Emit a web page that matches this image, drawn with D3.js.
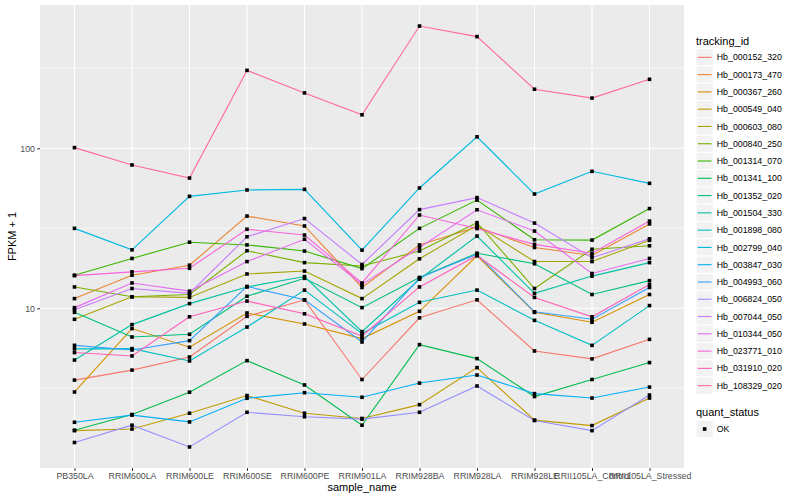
<!DOCTYPE html>
<html>
<head>
<meta charset="utf-8">
<script src="https://cdn.jsdelivr.net/npm/d3@7"></script>
<style>
  body { margin: 0; background: #fff; }
  text { font-family: "Liberation Sans", Arial, sans-serif; }
</style>
</head>
<body>
<svg id="chart" width="800" height="500"></svg>
<script>
// samples on the x axis
var samples = ["PB350LA", "RRIM600LA", "RRIM600LE", "RRIM600SE", "RRIM600PE", "RRIM901LA",
  "RRIM928BA", "RRIM928LA", "RRIM928LE", "RRII105LA_Control", "RRII105LA_Stressed"];

var trackingIds = ["Hb_000152_320", "Hb_000173_470", "Hb_000367_260", "Hb_000549_040",
  "Hb_000603_080", "Hb_000840_250", "Hb_001314_070", "Hb_001341_100", "Hb_001352_020",
  "Hb_001504_330", "Hb_001898_080", "Hb_002799_040", "Hb_003847_030", "Hb_004993_060",
  "Hb_006824_050", "Hb_007044_050", "Hb_010344_050", "Hb_023771_010", "Hb_031910_020",
  "Hb_108329_020"];

// FPKM + 1, one array per gene, in sample order
var hb000152 = [3.56, 4.11, 4.96, 8.91, 11.3, 3.59, 8.72, 11.3, 5.41, 4.83, 6.40];
var hb000173 = [11.5, 16.1, 18.6, 37.7, 32.7, 13.5, 24.9, 32.2, 24.0, 21.4, 33.7];
var hb000367 = [3.00, 7.47, 5.71, 9.35, 7.98, 6.47, 9.58, 21.3, 9.44, 8.18, 12.2];
var hb000549 = [1.72, 1.76, 2.21, 2.85, 2.21, 2.05, 2.50, 4.26, 2.00, 1.85, 2.75];
var hb000603 = [8.54, 11.8, 11.7, 16.4, 17.1, 11.5, 20.4, 33.0, 19.6, 19.6, 26.6];
var hb000840 = [13.6, 11.8, 12.2, 22.9, 19.3, 18.4, 22.8, 34.3, 13.3, 23.4, 24.6];
var hb001314 = [16.1, 20.5, 25.9, 24.9, 22.8, 17.7, 31.6, 47.5, 26.8, 26.7, 42.0];
var hb001341 = [1.73, 2.17, 2.99, 4.71, 3.32, 1.86, 5.93, 4.85, 2.81, 3.59, 4.58];
var hb001352 = [9.44, 6.62, 6.88, 11.9, 15.4, 10.1, 15.6, 22.1, 19.0, 12.2, 14.9];
var hb001504 = [4.75, 7.91, 10.7, 13.6, 15.8, 7.15, 15.2, 28.3, 12.4, 15.9, 19.3];
var hb001898 = [5.58, 5.60, 4.69, 7.64, 13.0, 6.95, 10.9, 13.0, 8.41, 5.87, 10.4];
var hb002799 = [31.6, 23.2, 50.1, 54.9, 55.4, 23.1, 56.5, 118, 51.8, 71.8, 60.4];
var hb003847 = [1.94, 2.15, 1.95, 2.74, 2.97, 2.78, 3.41, 3.83, 2.93, 2.75, 3.22];
var hb004993 = [5.87, 5.49, 6.28, 13.7, 11.3, 6.16, 15.5, 21.8, 9.51, 8.54, 13.5];
var hb006824 = [1.45, 1.86, 1.36, 2.24, 2.10, 2.03, 2.24, 3.27, 1.99, 1.72, 2.87];
var hb007044 = [9.80, 13.3, 12.4, 28.0, 36.4, 18.8, 41.4, 49.2, 34.1, 20.7, 27.2];
var hb010344 = [10.1, 14.4, 12.8, 19.6, 27.0, 14.1, 24.0, 41.3, 30.4, 16.5, 20.5];
var hb023771 = [16.0, 16.9, 17.8, 31.2, 28.7, 14.4, 38.3, 31.5, 25.1, 22.1, 35.1];
var hb031910 = [5.29, 5.04, 8.85, 11.1, 9.24, 6.71, 13.6, 21.4, 11.7, 8.85, 14.1];
var hb108329 = [101, 78.7, 65.2, 307, 222, 162, 581, 499, 234, 206, 270];

var seriesValues = [hb000152, hb000173, hb000367, hb000549, hb000603, hb000840, hb001314,
  hb001341, hb001352, hb001504, hb001898, hb002799, hb003847, hb004993, hb006824, hb007044,
  hb010344, hb023771, hb031910, hb108329];

var yMajor = [10, 100];
var quantStatus = ["OK"];

// R's hcl() colour (polar LUV), used for the default ggplot hue palette
function hclR(h, c, l) {
  var WY = 100, Wu = 0.1978398, Wv = 0.4683363;
  var hr = h * Math.PI / 180;
  var U = c * Math.cos(hr), V = c * Math.sin(hr);
  var Y = WY * (l > 7.999592 ? Math.pow((l + 16) / 116, 3) : l / 903.3);
  var u = U / (13 * l) + Wu, v = V / (13 * l) + Wv;
  var X = 9 * Y * u / (4 * v);
  var Z = -X / 3 - 5 * Y + 3 * Y / v;
  function g(t) { t = t > 0.00304 ? 1.055 * Math.pow(t, 1 / 2.4) - 0.055 : 12.92 * t; return Math.max(0, Math.min(1, t)); }
  var r = g((3.240479 * X - 1.537150 * Y - 0.498535 * Z) / WY);
  var gg = g((-0.969256 * X + 1.875992 * Y + 0.041556 * Z) / WY);
  var b = g((0.055648 * X - 0.204043 * Y + 1.057311 * Z) / WY);
  return d3.rgb(r * 255, gg * 255, b * 255).formatHex();
}
var n = trackingIds.length;
var palette = d3.range(n).map(function(i) { return hclR(15 + 360 * i / n, 100, 65); });

var svg = d3.select("#chart");
var pl = 40, pr = 684, pt = 5, pb = 468;

// panel
svg.append("rect").attr("x", pl).attr("y", pt).attr("width", pr - pl).attr("height", pb - pt)
  .attr("fill", "#EBEBEB");

var x = d3.scalePoint().domain(samples).range([pl, pr]).padding(0.6);

var all = [].concat.apply([], seriesValues);
var lo = Math.log10(d3.min(all)), hi = Math.log10(d3.max(all));
var pad = (hi - lo) * 0.05;
var y = d3.scaleLog().domain([Math.pow(10, lo - pad), Math.pow(10, hi + pad)]).range([pb, pt]);

// grid
var minor = [Math.sqrt(10), Math.sqrt(1000), Math.sqrt(100000)].filter(function(v) {
  return v > y.domain()[0] && v < y.domain()[1];
});
svg.append("g").selectAll("line").data(minor).join("line")
  .attr("x1", pl).attr("x2", pr).attr("y1", y).attr("y2", y)
  .attr("stroke", "#fff").attr("stroke-width", 0.55);
svg.append("g").selectAll("line").data(yMajor).join("line")
  .attr("x1", pl).attr("x2", pr).attr("y1", y).attr("y2", y)
  .attr("stroke", "#fff").attr("stroke-width", 1.1);
svg.append("g").selectAll("line").data(samples).join("line")
  .attr("x1", x).attr("x2", x).attr("y1", pt).attr("y2", pb)
  .attr("stroke", "#fff").attr("stroke-width", 1.1);

// lines
var line = d3.line().x(function(d, i) { return x(samples[i]); }).y(function(d) { return y(d); });
svg.append("g").selectAll("path").data(seriesValues).join("path")
  .attr("d", line).attr("fill", "none")
  .attr("stroke", function(d, i) { return palette[i]; }).attr("stroke-width", 1.1);

// points
var pts = [];
seriesValues.forEach(function(s) { s.forEach(function(v, i) { pts.push([samples[i], v]); }); });
svg.append("g").selectAll("rect").data(pts).join("rect")
  .attr("x", function(d) { return x(d[0]) - 1.8; }).attr("y", function(d) { return y(d[1]) - 1.8; })
  .attr("width", 3.6).attr("height", 3.6).attr("fill", "#000");

// axes
var xAxis = svg.append("g").attr("transform", "translate(0," + pb + ")")
  .call(d3.axisBottom(x).tickSize(3).tickPadding(2));
var yAxis = svg.append("g").attr("transform", "translate(" + pl + ",0)")
  .call(d3.axisLeft(y).tickValues(yMajor).tickFormat(d3.format("d")).tickSize(3).tickPadding(2));
[xAxis, yAxis].forEach(function(a) {
  a.select(".domain").remove();
  a.selectAll(".tick line").attr("stroke", "#333333").attr("stroke-width", 1);
  a.selectAll(".tick text").attr("fill", "#4D4D4D").style("font-size", "8.8px")
    .style("font-family", "'Liberation Sans', Arial, sans-serif");
});

svg.append("text").attr("x", (pl + pr) / 2).attr("y", 490.5).attr("text-anchor", "middle")
  .style("font-size", "11px").text("sample_name");
svg.append("text").attr("transform", "translate(16," + ((pt + pb) / 2) + ") rotate(-90)")
  .attr("text-anchor", "middle").style("font-size", "11px").text("FPKM + 1");

// legend: tracking_id
var lx = 696, keyH = 17.28, ly = 48.7;
svg.append("text").attr("x", lx).attr("y", 44.5).style("font-size", "11px").text("tracking_id");
var rows = svg.append("g").selectAll("g").data(trackingIds).join("g")
  .attr("transform", function(d, i) { return "translate(" + lx + "," + (ly + i * keyH) + ")"; });
rows.append("rect").attr("width", keyH).attr("height", keyH)
  .attr("fill", "#F2F2F2").attr("stroke", "#fff").attr("stroke-width", 1);
rows.append("line").attr("x1", 1.7).attr("x2", keyH - 1.7).attr("y1", keyH / 2).attr("y2", keyH / 2)
  .attr("stroke", function(d, i) { return palette[i]; }).attr("stroke-width", 1.1);
rows.append("text").attr("x", keyH + 3.5).attr("y", keyH / 2 + 3.1)
  .style("font-size", "8.8px").text(function(d) { return d; });

// legend: quant_status
svg.append("text").attr("x", lx).attr("y", 416).style("font-size", "11px").text("quant_status");
var qs = svg.append("g").selectAll("g").data(quantStatus).join("g")
  .attr("transform", function(d, i) { return "translate(" + lx + "," + (420.4 + i * keyH) + ")"; });
qs.append("rect").attr("width", keyH).attr("height", keyH)
  .attr("fill", "#F2F2F2").attr("stroke", "#fff").attr("stroke-width", 1);
qs.append("rect").attr("x", keyH / 2 - 1.8).attr("y", keyH / 2 - 1.8).attr("width", 3.6).attr("height", 3.6)
  .attr("fill", "#000");
qs.append("text").attr("x", keyH + 3.5).attr("y", keyH / 2 + 3.1)
  .style("font-size", "8.8px").text(function(d) { return d; });
</script>
</body>
</html>
